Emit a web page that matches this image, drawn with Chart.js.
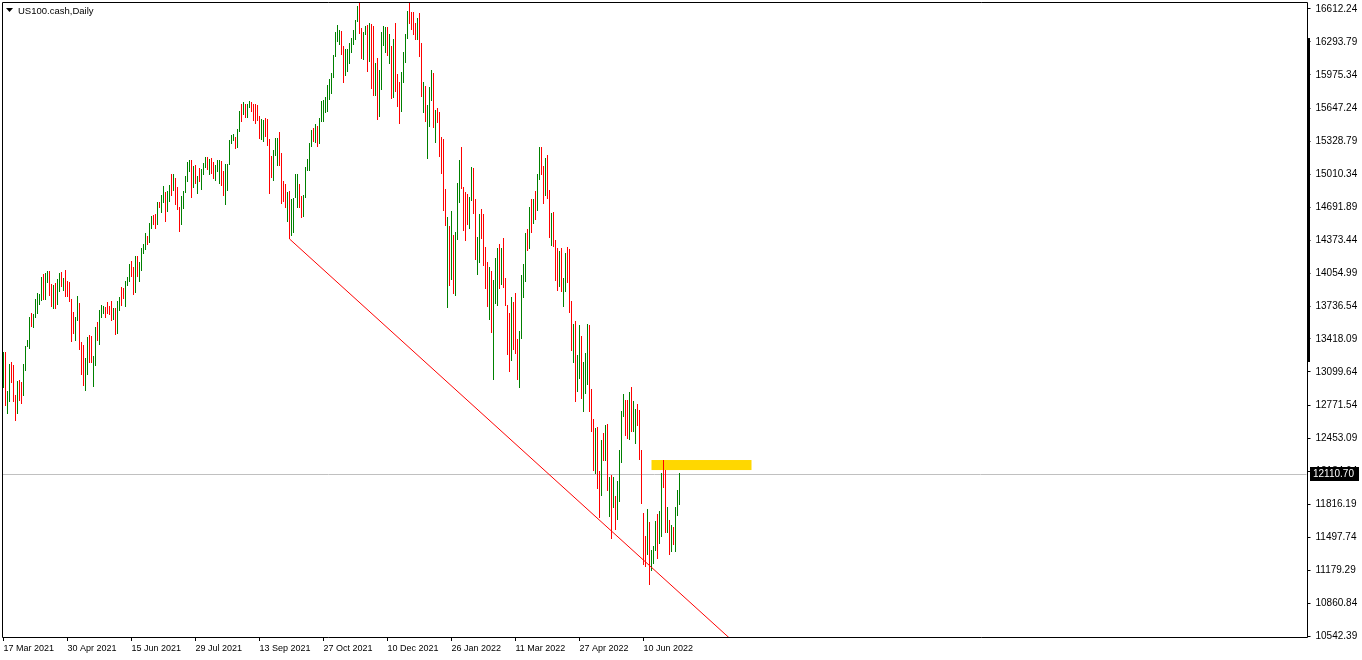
<!DOCTYPE html>
<html>
<head>
<meta charset="utf-8">
<title>US100.cash,Daily</title>
<script src="https://cdn.jsdelivr.net/npm/chart.js@4.4.0/dist/chart.umd.min.js"></script>
<style>
  html, body { margin: 0; padding: 0; background: #fff; }
  #wrap { width: 1362px; height: 660px; }
</style>
</head>
<body>
<div id="wrap"><canvas id="chart" width="1362" height="660"></canvas></div>
<script>
// daily bars, oldest first (17 Mar 2021 ...)
const highs = [
  13292, 13292, 12914, 13176, 13195, 13166, 12875, 13011, 13021, 13001,
  13176, 13350, 13408, 13631, 13669, 13660, 13805, 13863, 13853, 14018,
  14047, 14057, 14076, 14076, 13950, 13940, 13960, 13998, 14057, 14066,
  14008, 14086, 13979, 13969, 13805, 13679, 13631, 13834, 13766, 13389,
  13360, 13234, 13437, 13456, 13447, 13253, 13534, 13582, 13698, 13747,
  13737, 13727, 13776, 13737, 13785, 13718, 13718, 13785, 13824, 13921,
  13911, 13979, 14018, 14144, 14173, 14115, 14221, 14221, 14163, 14298,
  14337, 14444, 14415, 14541, 14608, 14618, 14628, 14744, 14744, 14812,
  14899, 14841, 14850, 14908, 15015, 15015, 14976, 14889, 14695, 14802,
  14850, 14996, 15131, 15150, 15150, 15092, 15102, 14996, 15073, 15063,
  15121, 15180, 15180, 15160, 15170, 15131, 15102, 15150, 15150, 15141,
  15044, 15112, 15112, 15344, 15393, 15402, 15373, 15451, 15625, 15693,
  15712, 15693, 15693, 15722, 15712, 15693, 15693, 15683, 15576, 15547,
  15538, 15557, 15547, 15354, 15189, 15247, 15363, 15363, 15422, 15218,
  14947, 14918, 14841, 14850, 14773, 14783, 15015, 15015, 14918, 14802,
  14812, 15083, 15160, 15315, 15441, 15460, 15499, 15480, 15557, 15722,
  15731, 15760, 15877, 15935, 15993, 16167, 16390, 16457, 16409, 16399,
  16254, 16225, 16225, 16283, 16332, 16409, 16506, 16641, 16720, 16428,
  16390, 16448, 16457, 16477, 16467, 16448, 16090, 16138, 16022, 16390,
  16448, 16438, 16438, 16370, 16254, 16322, 16477, 15983, 15906, 16002,
  16196, 16370, 16593, 16730, 16583, 16583, 16477, 16525, 16574, 16283,
  15906, 15867, 15683, 15857, 16022, 15993, 15635, 15654, 15615, 15373,
  15354, 14870, 14599, 14512, 14657, 14424, 14453, 14928, 15150, 15276,
  14889, 14841, 14821, 14792, 15083, 15073, 14773, 14405, 14628, 14676,
  14628, 14308, 14163, 14115, 14076, 13989, 14202, 14298, 14337, 14298,
  14395, 14008, 13747, 13669, 13824, 13776, 13863, 13418, 13495, 14037,
  14144, 14444, 14483, 14695, 14773, 14773, 14850, 15015, 15276, 15276,
  15092, 15170, 15199, 14860, 14637, 14647, 14376, 14298, 14270, 14298,
  14008, 14250, 14308, 14289, 13785, 13563, 13592, 13263, 13553, 13447,
  13195, 13282, 13563, 13553, 12934, 12643, 12556, 12566, 12140, 12440,
  12508, 12585, 12595, 12082, 12101, 12082, 11898, 12043, 12343, 12720,
  12885, 12827, 12827, 12904, 12953, 12817, 12740, 12788, 12730, 12343,
  11733, 11510, 11772, 11646, 11375, 11414, 11656, 11723, 11752, 12120,
  12246, 12149, 11791, 11665, 11617, 11598, 11791, 11956, 12120
];
const lows = [
  12943, 12769, 12692, 12808, 12992, 12808, 12624, 12692, 12817, 12788,
  12866, 13108, 13340, 13321, 13534, 13524, 13621, 13660, 13747, 13785,
  13795, 13795, 13960, 13834, 13727, 13708, 13708, 13747, 13873, 13921,
  13882, 13824, 13824, 13776, 13389, 13466, 13398, 13592, 13311, 13069,
  12963, 12914, 13069, 13185, 13185, 12953, 13156, 13398, 13360, 13621,
  13660, 13621, 13660, 13650, 13592, 13602, 13456, 13466, 13689, 13737,
  13805, 13727, 13931, 13969, 14018, 13844, 13863, 14018, 13969, 14076,
  14240, 14279, 14328, 14347, 14483, 14521, 14483, 14521, 14686, 14637,
  14734, 14550, 14647, 14744, 14802, 14850, 14715, 14666, 14453, 14521,
  14676, 14831, 14938, 15034, 14783, 14879, 14918, 14821, 14938, 14860,
  15005, 15073, 15054, 15005, 15015, 14967, 14947, 15034, 14918, 14899,
  14802, 14715, 14850, 15102, 15305, 15334, 15257, 15267, 15422, 15518,
  15586, 15557, 15557, 15654, 15615, 15528, 15499, 15528, 15354, 15344,
  15325, 15373, 15286, 14821, 14976, 14947, 15189, 15092, 15092, 14725,
  14744, 14686, 14550, 14386, 14415, 14444, 14783, 14686, 14686, 14589,
  14599, 14783, 15044, 15044, 15276, 15325, 15315, 15276, 15305, 15518,
  15518, 15605, 15615, 15731, 15789, 15944, 16148, 16293, 16264, 16167,
  15896, 15964, 16002, 16080, 16186, 16264, 16312, 16486, 16370, 16128,
  16119, 16361, 16002, 16099, 15838, 15770, 15770, 15538, 15567, 15828,
  16254, 16186, 16157, 16080, 15741, 15751, 15809, 15664, 15499, 15615,
  15896, 16090, 16322, 16467, 16409, 16361, 16312, 16312, 16148, 15760,
  15605, 15518, 15160, 15470, 15722, 15460, 15315, 15509, 15180, 15015,
  14657, 14512, 13718, 13931, 13989, 13853, 13834, 14376, 14734, 14870,
  14463, 14366, 14521, 14483, 14754, 14628, 14182, 14037, 14153, 14386,
  14124, 13902, 13727, 13602, 13476, 13021, 13756, 13737, 13902, 13940,
  13911, 13737, 13263, 13098, 13205, 13311, 13272, 13021, 12943, 13418,
  13815, 13969, 14270, 14289, 14444, 14531, 14570, 14657, 14957, 15005,
  14725, 14802, 14773, 14395, 14318, 14308, 13979, 13882, 13921, 13873,
  13727, 13873, 13960, 13669, 13301, 13185, 12808, 12904, 13030, 12837,
  12711, 12885, 12972, 12711, 12517, 12140, 12111, 11965, 11685, 11898,
  12237, 12237, 11946, 11694, 11481, 11782, 11569, 11665, 11840, 12217,
  12662, 12479, 12449, 12440, 12517, 12517, 12401, 12575, 12246, 11820,
  11230, 11210, 11326, 11036, 11172, 11239, 11365, 11288, 11433, 11501,
  11975, 11539, 11539, 11326, 11356, 11423, 11356, 11704, 11811
];
// g = up bar, r = down bar
const dir = (
  'grggrrrgrr' + 'ggggrggggg' + 'rggrrgrggr' + 'grrrrrggrr' + 'rggrrggrgg' +
  'grrrrgrggr' + 'rgggrrgrgg' + 'ggrggrrgrg' + 'grggrgrrrg' + 'ggggrgrgrg' +
  'ggrgrrgggr' + 'rgggggrggr' + 'grggrrrrrg' + 'grrrrgggrr' + 'rrgrggggrr' +
  'gggggrgrgg' + 'gggggggggr' + 'rgggggggrr' + 'ggrgrrgrgg' + 'ggrgrgrrrg' +
  'gggrrrrgrr' + 'grgggrgrrr' + 'rrgrgrgggr' + 'rrrggrrggr' + 'rrrgrgggrg' +
  'rrrrgrrrgg' + 'ggrgrgrggr' + 'rgrrgrrrgr' + 'ggrrrgrggr' + 'gggrrrgrrg' +
  'rgrgrgrggg' + 'grrgrggrrr' + 'rrgrgggrgg' + 'rrgrgrggg'
).split('');

const dateTickIdx = [0, 32, 64, 96, 128, 160, 192, 224, 256, 288, 320];
const dateTickText = ['17 Mar 2021', '30 Apr 2021', '15 Jun 2021', '29 Jul 2021', '13 Sep 2021',
  '27 Oct 2021', '10 Dec 2021', '26 Jan 2022', '11 Mar 2022', '27 Apr 2022', '10 Jun 2022'];
const priceTicks = [16612.24, 16293.79, 15975.34, 15647.24, 15328.79, 15010.34, 14691.89,
  14373.44, 14054.99, 13736.54, 13418.09, 13099.64, 12771.54, 12453.09, 12134.64,
  11816.19, 11497.74, 11179.29, 10860.84, 10542.39];
const lastPrice = 12110.70;
const trendIdx = [143, 400];
const trendVal = [14386, 9872];
const zoneIdx = [324, 374];
const zoneVal = [12149, 12246];
const axisMarkVal = [13195, 16331];

const totalSlots = 652;
const yMin = 10532.71, yMax = 16670.32;
const upColor = '#008000', downColor = '#ff0000';
const font = '"Liberation Sans", Arial, sans-serif';

const labels = Array.from({ length: totalSlots }, (_, i) => i);
const barData = highs.map((h, i) => [lows[i], h]);
const barColors = dir.map(d => d === 'g' ? upColor : downColor);
const trendData = labels.map(() => null);
trendData[trendIdx[0]] = trendVal[0];
trendData[trendIdx[1]] = trendVal[1];

const noPad = ax => {
  ax.paddingTop = 0; ax.paddingBottom = 0; ax.paddingLeft = 0; ax.paddingRight = 0;
};

const mt4Look = {
  id: 'mt4Look',
  beforeDatasetsDraw(chart) {
    const { ctx, chartArea: ca, scales: { x, y } } = chart;
    ctx.save();
    // yellow zone
    const zx0 = x.getPixelForValue(zoneIdx[0]), zx1 = x.getPixelForValue(zoneIdx[1]);
    const zy0 = y.getPixelForValue(zoneVal[1]), zy1 = y.getPixelForValue(zoneVal[0]);
    ctx.fillStyle = '#ffd700';
    ctx.fillRect(zx0, zy0, zx1 - zx0, zy1 - zy0);
    // last price line
    const py = Math.round(y.getPixelForValue(lastPrice)) + 0.5;
    ctx.strokeStyle = '#c0c0c0';
    ctx.lineWidth = 1;
    ctx.beginPath();
    ctx.moveTo(ca.left, py);
    ctx.lineTo(ca.right, py);
    ctx.stroke();
    ctx.restore();
  },
  afterDraw(chart) {
    const { ctx, chartArea: ca, scales: { y } } = chart;
    const ax = Math.round(ca.right) + 0.5;
    ctx.save();
    ctx.strokeStyle = '#000';
    ctx.lineWidth = 1;
    ctx.beginPath();
    ctx.moveTo(2.5, 2.5); ctx.lineTo(ax, 2.5);
    ctx.moveTo(2.5, 2.5); ctx.lineTo(2.5, ca.bottom + 0.5);
    ctx.moveTo(2.5, ca.bottom + 0.5); ctx.lineTo(ax, ca.bottom + 0.5);
    ctx.moveTo(ax, 2.5); ctx.lineTo(ax, ca.bottom + 0.5);
    ctx.stroke();
    // thick mark on price axis
    const m0 = y.getPixelForValue(axisMarkVal[1]), m1 = y.getPixelForValue(axisMarkVal[0]);
    ctx.fillStyle = '#000';
    ctx.fillRect(ax - 0.5, m0, 3, m1 - m0);
    // last price box
    const py = Math.round(y.getPixelForValue(lastPrice));
    ctx.fillRect(ax + 2.5, py - 7, 49, 14);
    ctx.fillStyle = '#fff';
    ctx.font = '10px ' + font;
    ctx.textBaseline = 'middle';
    ctx.fillText(lastPrice.toFixed(2), ax + 5.5, py + 0.5);
    // title
    ctx.fillStyle = '#000';
    ctx.beginPath();
    ctx.moveTo(6, 8); ctx.lineTo(13, 8); ctx.lineTo(9.5, 12); ctx.closePath();
    ctx.fill();
    ctx.font = '9.5px ' + font;
    ctx.fillText('US100.cash,Daily', 18, 11);
    ctx.restore();
  }
};

new Chart(document.getElementById('chart'), {
  type: 'bar',
  data: {
    labels: labels,
    datasets: [{
      label: 'US100.cash',
      data: barData,
      backgroundColor: barColors,
      borderWidth: 0,
      barThickness: 1,
      inflateAmount: 0,
      borderSkipped: false,
      order: 2
    }, {
      type: 'line',
      label: 'trend',
      data: trendData,
      spanGaps: true,
      borderColor: '#ff0000',
      borderWidth: 1,
      pointRadius: 0,
      tension: 0,
      order: 1
    }]
  },
  options: {
    responsive: false,
    animation: false,
    devicePixelRatio: 1,
    layout: { padding: { left: 2.5, top: 3, right: 0, bottom: 0 } },
    plugins: { legend: { display: false }, tooltip: { enabled: false } },
    scales: {
      x: {
        type: 'category',
        offset: true,
        border: { display: false },
        grid: { offset: false, drawOnChartArea: false, tickLength: 4, color: '#000' },
        ticks: {
          autoSkip: false, maxRotation: 0, align: 'start', padding: 2,
          color: '#000', font: { family: font, size: 9 },
          callback: (v, i) => dateTickText[i]
        },
        afterBuildTicks: ax => { ax.ticks = dateTickIdx.map(v => ({ value: v })); },
        afterFit: ax => { ax.height = 23; noPad(ax); }
      },
      y: {
        type: 'linear',
        position: 'right',
        min: yMin,
        max: yMax,
        border: { display: false },
        grid: { drawOnChartArea: false, tickLength: 4, color: '#000' },
        ticks: {
          autoSkip: false, padding: 5,
          color: '#000', font: { family: font, size: 10 },
          callback: v => v.toFixed(2)
        },
        afterBuildTicks: ax => { ax.ticks = priceTicks.map(v => ({ value: v })); },
        afterFit: ax => { ax.width = 1362 - 2.5 - totalSlots * 2; noPad(ax); }
      }
    }
  },
  plugins: [mt4Look]
});
</script>
</body>
</html>
